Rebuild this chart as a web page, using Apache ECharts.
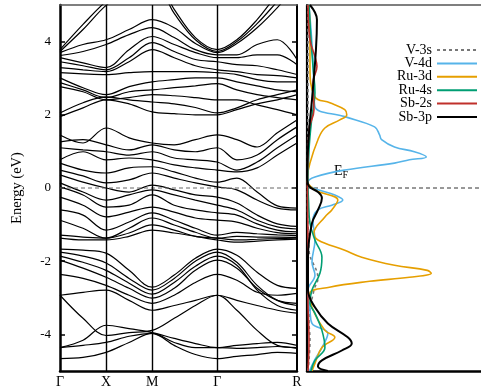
<!DOCTYPE html>
<html>
<head>
<meta charset="utf-8">
<script src="https://cdn.jsdelivr.net/npm/echarts@6/dist/echarts.min.js"></script>
<style>html,body{margin:0;padding:0;background:#fff}#c{width:481px;height:389px}</style>
</head>
<body>
<div id="c"></div>
<script>
// High-symmetry path (cumulative k distance) and labels
const kTicks = [0, 0.5, 1.0, 1.707, 2.573];
const kLabels = ['Γ', 'X', 'M', 'Γ', 'R'];
// k sample points used for the band readings
const kGrid = [0, 0.25, 0.5, 0.75, 1.0, 1.24, 1.47, 1.707, 1.92, 2.14, 2.36, 2.573];
const energyTicks = [-4, -2, 0, 2, 4];

// Band energies (eV) at kGrid points
const bandsUpper = [
  [3.78,4.47,5.10,5.56,5.84,4.88,4.11,3.78,4.05,4.60,5.29,5.84],
  [3.73,4.33,4.99,5.42,5.70,4.77,4.05,3.73,4.00,4.49,5.10,5.70],
  [3.70,3.92,4.05,4.33,4.60,4.38,3.95,3.70,3.95,4.38,4.93,5.56],
  [3.62,3.73,3.92,4.19,4.38,4.11,3.78,3.64,3.64,3.92,4.05,3.51],
  [3.56,3.42,3.29,3.78,4.14,3.92,3.70,3.56,3.56,3.64,3.64,3.37],
  [3.45,3.34,3.23,3.56,3.97,3.73,3.51,3.45,3.37,3.34,3.23,3.10],
  [3.29,3.23,3.18,3.45,3.78,3.56,3.34,3.23,3.18,3.10,3.07,3.01],
  [3.15,3.12,3.10,3.15,3.18,3.18,3.18,3.15,3.10,2.96,2.90,2.90],
  [3.01,2.74,2.55,2.77,2.90,2.96,3.01,3.01,2.90,2.79,2.68,2.63],
  [2.88,2.68,2.47,2.63,2.68,2.74,2.79,2.85,2.68,2.55,2.47,2.41],
  [2.77,2.63,2.41,2.47,2.55,2.52,2.47,2.41,2.41,2.27,2.14,2.00],
  [2.05,2.33,2.49,2.41,2.35,2.30,2.20,2.05,2.19,2.41,2.55,2.68],
  [1.95,2.19,2.41,2.30,2.08,2.03,2.00,2.00,2.14,2.30,2.41,2.55]
];
const bandsMiddle = [
  [1.45,1.23,1.64,1.37,1.23,1.18,1.32,1.45,1.32,1.12,1.51,1.86],
  [1.26,1.32,1.18,1.04,1.18,1.04,0.99,1.10,0.77,0.90,1.32,1.67],
  [1.10,1.04,0.99,0.90,0.99,0.82,0.77,0.71,0.49,0.71,1.10,1.45],
  [0.77,0.99,0.77,0.82,0.77,0.63,0.55,0.49,0.44,0.55,0.90,1.23],
  [0.68,0.49,0.41,0.55,0.58,0.44,0.27,0.16,0.27,-0.11,-0.49,-0.55],
  [0.49,0.33,0.14,0.22,0.41,0.27,0.14,0.03,-0.05,-0.33,-0.55,-0.60],
  [0.36,0.16,0.00,-0.11,0.08,-0.05,-0.19,-0.25,-0.41,-0.74,-0.98,-1.05],
  [0.14,-0.11,-0.33,-0.19,-0.05,-0.19,-0.33,-0.47,-0.60,-0.88,-1.06,-1.12],
  [0.03,-0.19,-0.52,-0.47,-0.19,-0.47,-0.60,-0.68,-0.74,-0.98,-1.15,-1.20],
  [-0.25,-0.47,-0.79,-0.66,-0.52,-0.66,-0.82,-0.88,-0.93,-1.10,-1.22,-1.25],
  [-0.60,-0.74,-1.15,-0.93,-0.68,-0.88,-1.10,-1.29,-1.21,-1.25,-1.28,-1.30],
  [-0.88,-1.10,-1.37,-1.10,-0.82,-1.01,-1.21,-1.37,-1.32,-1.34,-1.34,-1.35],
  [-1.29,-1.34,-1.37,-1.23,-1.01,-1.15,-1.32,-1.37,-1.42,-1.40,-1.38,-1.37],
  [-1.37,-1.42,-1.42,-1.32,-1.15,-1.23,-1.32,-1.42,-1.48,-1.45,-1.42,-1.40]
];
const bandsLower = [
  [-1.67,-1.70,-1.78,-2.25,-2.71,-2.38,-1.92,-1.67,-1.84,-2.30,-2.66,-2.74],
  [-1.75,-1.86,-2.05,-2.47,-2.79,-2.47,-2.00,-1.75,-2.03,-2.66,-3.07,-3.21],
  [-1.86,-2.03,-2.25,-2.60,-2.90,-2.58,-2.14,-1.86,-2.11,-2.79,-3.21,-3.34],
  [-1.97,-2.19,-2.44,-2.74,-3.01,-2.74,-2.25,-1.97,-2.19,-2.74,-3.07,-3.15],
  [-2.36,-2.47,-2.66,-2.93,-3.15,-2.93,-2.58,-2.36,-2.52,-2.85,-2.93,-2.88],
  [-2.93,-2.85,-2.79,-3.07,-3.34,-3.21,-3.07,-2.93,-3.07,-3.21,-3.34,-3.42],
  [-2.93,-3.56,-4.03,-3.95,-3.89,-3.56,-3.21,-2.93,-3.34,-3.89,-4.30,-4.36],
  [-4.36,-4.16,-3.75,-3.84,-3.95,-4.11,-4.25,-4.36,-4.30,-4.25,-4.22,-4.30],
  [-4.36,-4.30,-4.22,-4.05,-3.97,-4.22,-4.36,-4.36,-4.38,-4.36,-4.33,-4.38],
  [-4.66,-4.63,-4.49,-4.22,-3.97,-4.30,-4.55,-4.66,-4.60,-4.55,-4.49,-4.52]
];

// Projected DOS: [energy (eV), DOS (arb. units)]
const dosV3s = [[5,0.04],[2.4,0.04],[0.22,0.02],[-1.7,0.08],[-2.47,0.44],[-2.79,0.28],[-3.62,0.08],[-4.16,0.12],[-5,0.04]];
const dosV4d = [[5,0.08],[4.33,0.16],[3.51,0.24],[2.68,0.28],[2.22,0.32],[1.95,1.52],[1.67,2.72],[1.45,2.92],[1.32,3.0],[1.12,3.52],[0.99,4.32],[0.85,4.8],[0.77,4.12],[0.68,3.52],[0.49,1.52],[0.30,0.32],[0.16,0.04],[0.05,0.12],[-0.05,0.44],[-0.19,1.12],[-0.33,1.44],[-0.47,1.0],[-0.60,0.44],[-0.88,0.24],[-1.42,0.32],[-2.03,0.2],[-2.38,0.32],[-2.79,0.04],[-3.34,0.12],[-3.70,0.2],[-3.97,0.84],[-4.36,0.6],[-4.71,0.3],[-5,0.1]];
const dosRu3d = [[5,0.08],[4.05,0.12],[3.32,0.12],[2.49,0.32],[2.33,0.92],[2.14,1.52],[2.0,1.6],[1.86,1.32],[1.64,0.72],[1.32,0.44],[0.68,0.12],[0.22,0.0],[-0.05,0.32],[-0.33,1.24],[-0.60,1.0],[-0.79,0.72],[-1.23,0.28],[-1.42,0.44],[-1.70,1.52],[-1.89,2.2],[-2.11,3.52],[-2.25,4.84],[-2.33,5.0],[-2.44,4.12],[-2.55,2.52],[-2.71,0.9],[-2.88,0.12],[-3.26,0.2],[-3.89,0.72],[-4.08,1.12],[-4.36,0.6],[-4.79,0.32],[-5,0.2]];
const dosRu4s = [[5,0.08],[4.05,0.16],[3.32,0.24],[2.6,0.32],[1.95,0.2],[1.04,0.08],[0.08,0.04],[-0.33,0.06],[-0.96,0.12],[-1.42,0.32],[-1.89,0.6],[-2.33,0.52],[-2.79,0.2],[-3.15,0.12],[-3.42,0.32],[-3.89,0.6],[-4.36,0.72],[-4.71,0.32],[-5,0.16]];
const dosSb2s = [[5,0.04],[4.05,0.12],[3.59,0.32],[3.32,0.4],[2.88,0.24],[2.14,0.28],[1.59,0.08],[0,0.02],[-1.7,0.04],[-3.07,0.04],[-4.16,0.08],[-5,0.04]];
const dosSb3p = [[5,0.12],[4.6,0.4],[3.78,0.36],[2.41,0.2],[1.51,0.08],[0.30,0.0],[0.05,0.08],[-0.11,0.44],[-0.27,0.6],[-0.60,0.44],[-0.96,0.2],[-1.89,0.04],[-2.79,0.04],[-3.26,0.32],[-3.70,0.84],[-4.08,1.64],[-4.25,1.8],[-4.44,1.4],[-4.71,0.6],[-4.88,0.44],[-5,0.84]];

const dosNames = ['V-3s','V-4d','Ru-3d','Ru-4s','Sb-2s','Sb-3p'];
const dosSets = [dosV3s, dosV4d, dosRu3d, dosRu4s, dosSb2s, dosSb3p];
const dosColors = ['#777777','#56b4e9','#e69f00','#009e73','#c0302b','#000000'];

const serif = 'Liberation Serif';
const chart = echarts.init(document.getElementById('c'), null, {renderer: 'canvas'});

const series = [];
[...bandsUpper, ...bandsMiddle, ...bandsLower].forEach(b => {
  series.push({
    type: 'line', xAxisIndex: 0, yAxisIndex: 0, silent: true,
    data: kGrid.map((k, i) => [k, b[i]]),
    smooth: 0.35, symbol: 'none', clip: true,
    lineStyle: {color: '#000', width: 1.2}
  });
});
// High-symmetry vertical lines and Fermi level in band panel
series.push({
  type: 'line', xAxisIndex: 0, yAxisIndex: 0, silent: true, symbol: 'none',
  data: [[0, 0], [2.573, 0]],
  lineStyle: {color: '#666', width: 1, type: [4, 3]},
  markLine: {
    silent: true, symbol: ['none', 'none'], label: {show: false},
    lineStyle: {color: '#000', width: 1.4, type: 'solid'},
    data: kTicks.slice(1, 4).map(k => ({xAxis: k}))
  }
});
// Fermi level in DOS panel
series.push({
  type: 'line', xAxisIndex: 2, yAxisIndex: 2, silent: true, symbol: 'none',
  data: [[0, 0], [7, 0]],
  lineStyle: {color: '#333', width: 1, type: [4, 3]}
});
dosSets.forEach((d, i) => {
  series.push({
    name: dosNames[i], type: 'line', xAxisIndex: 2, yAxisIndex: 2, silent: true,
    data: d.map(p => [p[1], p[0]]),
    smooth: 0.4, symbol: 'none', clip: true,
    lineStyle: {color: dosColors[i], width: i === 5 ? 2 : 1.6, type: i === 0 ? [3, 3] : 'solid'},
    itemStyle: {color: dosColors[i]}
  });
});

chart.setOption({
  animation: false,
  backgroundColor: '#fff',
  grid: [
    {left: 60, top: 5, width: 237, height: 366},
    {left: 307, top: 5, right: -6, height: 366}
  ],
  xAxis: [
    {gridIndex: 0, type: 'value', min: 0, max: 2.573, position: 'bottom',
     axisLine: {show: true, onZero: false, lineStyle: {color: '#000', width: 2.5}},
     axisTick: {show: false}, splitLine: {show: false},
     axisLabel: {customValues: kTicks, formatter: v => kLabels[kTicks.indexOf(v)],
       fontFamily: serif, fontSize: 14, color: '#000', margin: 4}},
    {gridIndex: 0, type: 'value', min: 0, max: 2.573, position: 'top',
     axisLine: {show: true, onZero: false, lineStyle: {color: '#555', width: 1.5}},
     axisTick: {show: false}, axisLabel: {show: false}, splitLine: {show: false}},
    {gridIndex: 1, type: 'value', min: 0, max: 7, position: 'bottom',
     axisLine: {show: true, onZero: false, lineStyle: {color: '#000', width: 2.5}},
     axisTick: {show: false}, axisLabel: {show: false}, splitLine: {show: false}},
    {gridIndex: 1, type: 'value', min: 0, max: 7, position: 'top',
     axisLine: {show: true, onZero: false, lineStyle: {color: '#555', width: 1.5}},
     axisTick: {show: false}, axisLabel: {show: false}, splitLine: {show: false}}
  ],
  yAxis: [
    {gridIndex: 0, type: 'value', min: -5, max: 5, position: 'left',
     axisLine: {show: true, onZero: false, lineStyle: {color: '#000', width: 2.5}},
     axisTick: {show: true, inside: true, length: 5, customValues: energyTicks, lineStyle: {color: '#000', width: 1.5}},
     axisLabel: {customValues: energyTicks, fontFamily: serif, fontSize: 13, color: '#000', margin: 9},
     splitLine: {show: false},
     name: 'Energy (eV)', nameLocation: 'middle', nameGap: 35,
     nameTextStyle: {fontFamily: serif, fontSize: 14.5, color: '#000'}},
    {gridIndex: 0, type: 'value', min: -5, max: 5, position: 'right',
     axisLine: {show: true, onZero: false, lineStyle: {color: '#000', width: 2}},
     axisTick: {show: true, inside: true, length: 5, customValues: energyTicks, lineStyle: {color: '#000', width: 1.5}},
     axisLabel: {show: false}, splitLine: {show: false}},
    {gridIndex: 1, type: 'value', min: -5, max: 5, position: 'left',
     axisLine: {show: true, onZero: false, lineStyle: {color: '#000', width: 2.2}},
     axisTick: {show: false}, axisLabel: {show: false}, splitLine: {show: false}}
  ],
  legend: {
    data: dosNames, orient: 'vertical', right: 3, top: 43, align: 'right',
    padding: 0, itemWidth: 40, itemHeight: 10, itemGap: -0.6,
    itemStyle: {opacity: 0},
    textStyle: {fontFamily: serif, fontSize: 14, color: '#000'},
    selectedMode: false
  },
  graphic: [{
    type: 'text', left: 334, top: 164, silent: true,
    style: {
      text: '{a|E}{b|F}',
      rich: {a: {fontFamily: serif, fontSize: 14, fill: '#000'}, b: {fontFamily: serif, fontSize: 10, fill: '#000', padding: [9, 0, 0, 0]}}
    }
  }],
  series: series
});
</script>
</body>
</html>
